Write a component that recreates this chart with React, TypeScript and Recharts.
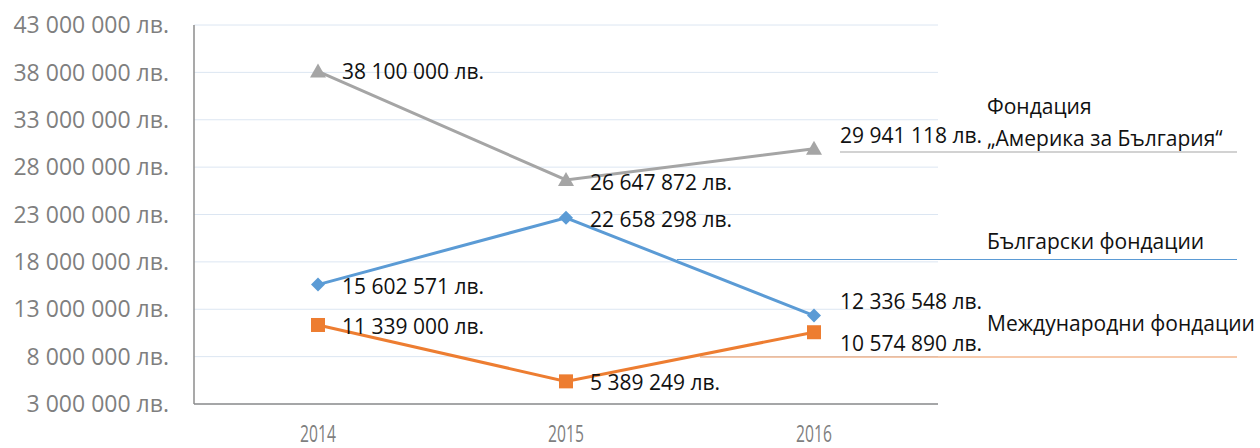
import React from "react";
import { LineChart, Line, XAxis, YAxis, CartesianGrid, LabelList } from "recharts";

const years = ["2014", "2015", "2016"];
const americaFoundation = [38100000, 26647872, 29941118];
const bulgarianFoundations = [15602571, 22658298, 12336548];
const internationalFoundations = [11339000, 5389249, 10574890];
const yTicks = [3000000, 8000000, 13000000, 18000000, 23000000, 28000000, 33000000, 38000000, 43000000];
const seriesNames = ["Фондация\n„Америка за България“", "Български фондации", "Международни фондации"];

const data = years.map((year, i) => ({
  year,
  america: americaFoundation[i],
  bulgarian: bulgarianFoundations[i],
  international: internationalFoundations[i],
}));

const FONT = "'Open Sans', sans-serif";
const GRAY = "#A5A5A5";
const BLUE = "#5B9BD5";
const ORANGE = "#ED7D31";

const fmt = (v: number) => String(Math.round(v)).replace(/\B(?=(\d{3})+(?!\d))/g, " ") + " лв.";

// label offsets (dx, dy) for each point, per series
const labelShift: Record<string, [number, number][]> = {
  america: [[24, 0], [24, 2], [26, -14]],
  bulgarian: [[24, 1], [24, 1], [26, -15]],
  international: [[24, 1], [24, 1], [26, 11]],
};

const makeLabel = (key: string) => (props: any) => {
  const { x, y, value, index } = props;
  const [dx, dy] = labelShift[key][index] || [24, 0];
  return (
    <text x={x + dx} y={y + dy} fontFamily={FONT} fontSize={21} fill="#111" dominantBaseline="central">
      {fmt(value)}
    </text>
  );
};

const Triangle = (props: any) => {
  const { cx, cy } = props;
  return <polygon key={`t${cx}`} points={`${cx},${cy - 8} ${cx - 8},${cy + 6} ${cx + 8},${cy + 6}`} fill={GRAY} />;
};
const Diamond = (props: any) => {
  const { cx, cy } = props;
  return <polygon key={`d${cx}`} points={`${cx},${cy - 7} ${cx + 7},${cy} ${cx},${cy + 7} ${cx - 7},${cy}`} fill={BLUE} />;
};
const Square = (props: any) => {
  const { cx, cy } = props;
  return <rect key={`s${cx}`} x={cx - 7} y={cy - 7} width={14} height={14} fill={ORANGE} />;
};

const XTick = (props: any) => {
  const { x, y, payload } = props;
  return (
    <text
      transform={`translate(${x},${y + 21}) scale(0.68,1)`}
      textAnchor="middle"
      fontFamily={FONT}
      fontSize={23}
      fill="#7f7f7f"
      dominantBaseline="central"
    >
      {payload.value}
    </text>
  );
};

export default function App() {
  return (
    <div style={{ position: "absolute", left: 0, top: 0, width: 1260, height: 448, background: "#fff" }}>
      <LineChart width={1260} height={448} data={data} margin={{ top: 25, right: 322, bottom: 0, left: 0 }}>
        <CartesianGrid vertical={false} stroke="#DCE6F2" strokeWidth={1} />
        <XAxis
          dataKey="year"
          padding={{ left: 124, right: 124 }}
          tickLine={false}
          axisLine={{ stroke: "#8c8c8c", strokeWidth: 1.5 }}
          tick={<XTick />}
          height={44}
        />
        <YAxis
          width={194}
          domain={[3000000, 43000000]}
          ticks={yTicks}
          tickFormatter={fmt}
          tickLine={false}
          tickMargin={19}
          axisLine={{ stroke: "#8c8c8c", strokeWidth: 1.5 }}
          tick={{ fontFamily: FONT, fontSize: 23, fill: "#7f7f7f" }}
          interval={0}
        />
        <Line dataKey="america" stroke={GRAY} strokeWidth={3} dot={<Triangle />} activeDot={false} isAnimationActive={false}>
          <LabelList dataKey="america" content={makeLabel("america")} />
        </Line>
        <Line dataKey="bulgarian" stroke={BLUE} strokeWidth={3} dot={<Diamond />} activeDot={false} isAnimationActive={false}>
          <LabelList dataKey="bulgarian" content={makeLabel("bulgarian")} />
        </Line>
        <Line dataKey="international" stroke={ORANGE} strokeWidth={3} dot={<Square />} activeDot={false} isAnimationActive={false}>
          <LabelList dataKey="international" content={makeLabel("international")} />
        </Line>
      </LineChart>
      <svg width={1260} height={448} style={{ position: "absolute", left: 0, top: 0, pointerEvents: "none" }}>
        <line x1={840} x2={1237} y1={152} y2={152} stroke={GRAY} strokeWidth={1} />
        <line x1={677} x2={1237} y1={259.5} y2={259.5} stroke={BLUE} strokeWidth={1} />
        <line x1={700} x2={1237} y1={357} y2={357} stroke={ORANGE} strokeWidth={1} opacity={0.8} />
        <text x={987} fontFamily={FONT} fontSize={21} fill="#111">
          {seriesNames[0].split("\n").map((ln, i) => (
            <tspan key={i} x={987} y={114 + i * 32}>{ln}</tspan>
          ))}
        </text>
        <text x={987} y={249} fontFamily={FONT} fontSize={21} fill="#111">{seriesNames[1]}</text>
        <text x={987} y={331} fontFamily={FONT} fontSize={21} fill="#111">{seriesNames[2]}</text>
      </svg>
    </div>
  );
}
